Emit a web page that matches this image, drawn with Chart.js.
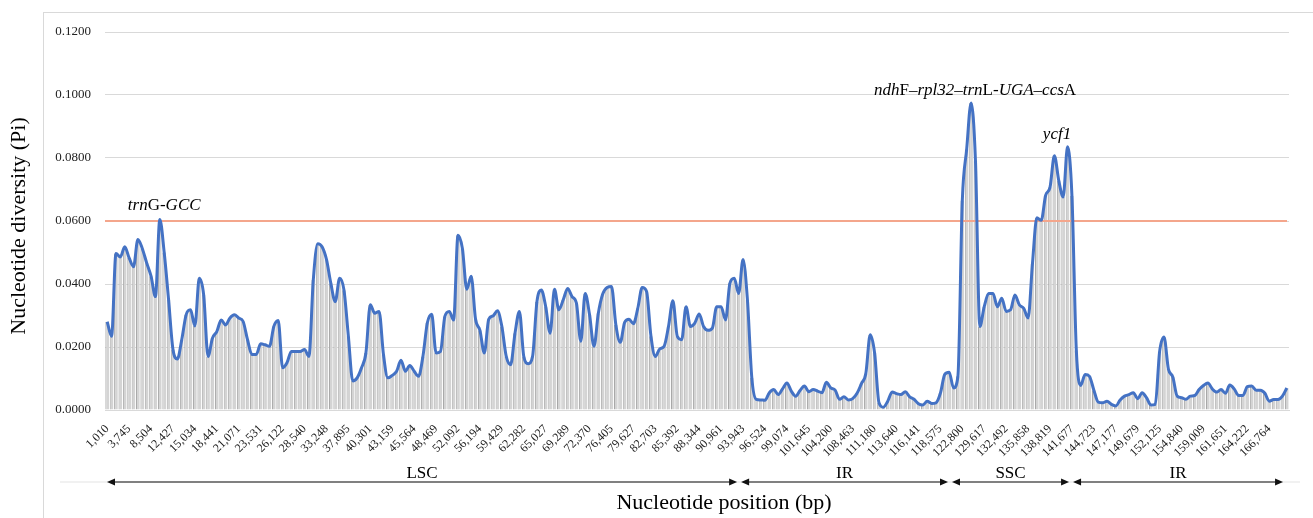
<!DOCTYPE html>
<html>
<head>
<meta charset="utf-8">
<script src="https://cdn.jsdelivr.net/npm/chart.js@4.4.0/dist/chart.umd.min.js"></script>
<style>
html, body { margin: 0; padding: 0; background: #fff; }
#wrap { position: relative; width: 1313px; height: 518px; overflow: hidden; }
#frame { position: absolute; left: 43px; top: 12px; width: 1300px; height: 520px;
         border-left: 1px solid #d9d9d9; border-top: 1px solid #d9d9d9; }
#myChart { position: absolute; left: 0; top: 0; }
</style>
</head>
<body>
<div id="wrap">
  <div id="frame"></div>
  <canvas id="myChart" width="1313" height="518"></canvas>
</div>
<script>
// sliding window values of nucleotide diversity (Pi)
var piValues = [
  0.028, 0.0234, 0.0497, 0.0486, 0.0518, 0.0483, 0.0455, 0.0541, 0.0513, 0.0467,
  0.0425, 0.036, 0.0605, 0.050, 0.035, 0.0192, 0.0162, 0.0223, 0.0302, 0.0318,
  0.0267, 0.0418, 0.0365, 0.017, 0.0228, 0.0249, 0.0286, 0.027, 0.0292, 0.0302,
  0.0292, 0.0281, 0.0223, 0.0176, 0.0176, 0.021, 0.0207, 0.0202, 0.0265, 0.0284,
  0.0134, 0.015, 0.0186, 0.0186, 0.0186, 0.0192, 0.017, 0.0413, 0.0528, 0.0518,
  0.0478, 0.0402, 0.0344, 0.0418, 0.038, 0.0234, 0.0092, 0.0102, 0.0134, 0.0181,
  0.0334, 0.0307, 0.0313, 0.0176, 0.0102, 0.011, 0.0123, 0.0158, 0.0123, 0.0141,
  0.0123, 0.0107, 0.017, 0.0276, 0.0304, 0.0181, 0.0186, 0.0297, 0.0313, 0.0286,
  0.0555, 0.0513, 0.0383, 0.0425, 0.0288, 0.0253, 0.0181, 0.0288, 0.0299, 0.0315,
  0.0265, 0.017, 0.0144, 0.0244, 0.0313, 0.017, 0.0147, 0.017, 0.0344, 0.0381,
  0.0328, 0.0244, 0.0383, 0.0318, 0.035, 0.0386, 0.036, 0.0339, 0.0218, 0.037,
  0.0302, 0.0202, 0.0307, 0.0368, 0.0389, 0.0392, 0.027, 0.0215, 0.0278, 0.0288,
  0.0274, 0.0323, 0.0389, 0.0376, 0.0234, 0.017, 0.0194, 0.0202, 0.0265, 0.0347,
  0.0234, 0.0223, 0.0328, 0.0265, 0.0276, 0.0305, 0.0265, 0.0253, 0.026, 0.0328,
  0.0328, 0.0286, 0.0402, 0.0418, 0.037, 0.0478, 0.035, 0.0102, 0.0034, 0.0032,
  0.0031, 0.0055, 0.0065, 0.0049, 0.0067, 0.0086, 0.006, 0.0044, 0.0062, 0.0076,
  0.0058, 0.0065, 0.006, 0.0055, 0.0088, 0.007, 0.0063, 0.0034, 0.0042, 0.0032,
  0.0036, 0.0053, 0.0084, 0.0116, 0.0239, 0.0181, 0.0023, 0.0009, 0.0028, 0.0057,
  0.0052, 0.0049, 0.0058, 0.0042, 0.0034, 0.002, 0.0016, 0.0028, 0.0021, 0.0023,
  0.0053, 0.0113, 0.012, 0.007, 0.0107, 0.0665, 0.0828, 0.0975, 0.0792, 0.0265,
  0.0328, 0.037, 0.037, 0.0328, 0.0355, 0.0313, 0.0318, 0.0365, 0.0334, 0.0323,
  0.0292, 0.0465, 0.061, 0.0602, 0.0681, 0.0707, 0.0807, 0.0728, 0.0676, 0.0836,
  0.068, 0.019, 0.0078, 0.0113, 0.0107, 0.0063, 0.0025, 0.0023, 0.0028, 0.0018,
  0.0013, 0.0032, 0.0044, 0.0049, 0.0055, 0.0036, 0.0055, 0.0039, 0.0016, 0.0018,
  0.0186, 0.0232, 0.013, 0.0105, 0.0044, 0.0039, 0.0034, 0.0044, 0.0046, 0.0065,
  0.0078, 0.0086, 0.0067, 0.0057, 0.0065, 0.0053, 0.0079, 0.0067, 0.0046, 0.0046,
  0.0074, 0.0076, 0.0063, 0.0063, 0.0053, 0.0028, 0.0033, 0.0033, 0.0044, 0.007
];

// position labels shown on the x axis (one every 5 windows)
var posLabels = [
  "1,010", "3,745", "8,504", "12,427", "15,034", "18,441", "21,071", "23,531", "26,122", "28,540",
  "33,248", "37,895", "40,301", "43,159", "45,564", "48,469", "52,092", "56,194", "59,429", "62,282",
  "65,027", "69,289", "72,370", "76,405", "79,627", "82,703", "85,392", "88,344", "90,961", "93,943",
  "96,524", "99,074", "101,645", "104,200", "108,463", "111,180", "113,640", "116,141", "118,575", "122,800",
  "129,617", "132,492", "135,858", "138,819", "141,677", "144,723", "147,177", "149,679", "152,125", "154,840",
  "159,009", "161,651", "164,222", "166,764"
];
var labelEvery = 5;

var yTicks = [0, 0.02, 0.04, 0.06, 0.08, 0.10, 0.12];
var threshold = 0.06;

// chloroplast regions, boundaries given as window index
var regionNames = ["LSC", "IR", "SSC", "IR"];
var regionBounds = [-0.5, 144.1, 192.2, 219.8, 268.6];

var serif = "'Liberation Serif', 'Times New Roman', serif";

function drawRich(ctx, parts, cx, cy, size) {
    // draws text made of italic / upright pieces, centred on cx
    var total = 0;
    for (var i = 0; i < parts.length; i++) {
        ctx.font = (parts[i][1] ? "italic " : "") + size + "px " + serif;
        total += ctx.measureText(parts[i][0]).width;
    }
    var x = cx - total / 2;
    ctx.textAlign = "left";
    ctx.textBaseline = "middle";
    for (var j = 0; j < parts.length; j++) {
        ctx.font = (parts[j][1] ? "italic " : "") + size + "px " + serif;
        ctx.fillText(parts[j][0], x, cy);
        x += ctx.measureText(parts[j][0]).width;
    }
}

function arrowHead(ctx, x, y, dir) {
    ctx.beginPath();
    ctx.moveTo(x, y);
    ctx.lineTo(x - dir * 8, y - 3.5);
    ctx.lineTo(x - dir * 8, y + 3.5);
    ctx.closePath();
    ctx.fill();
}

var extras = {
    id: "extras",
    afterDatasetDraw: function(chart, args) {
        // threshold line goes over the bars but under the blue line
        if (args.index !== 1) return;
        var ctx = chart.ctx;
        var ys = chart.scales.y;
        var area = chart.chartArea;
        var y = ys.getPixelForValue(threshold);
        ctx.save();
        ctx.strokeStyle = "#f4a68c";
        ctx.lineWidth = 2;
        ctx.beginPath();
        ctx.moveTo(area.left, y);
        ctx.lineTo(area.right - 2, y);
        ctx.stroke();
        ctx.restore();
    },
    afterDraw: function(chart) {
        var ctx = chart.ctx;
        var xs = chart.scales.x;
        var ys = chart.scales.y;
        var area = chart.chartArea;
        ctx.save();
        ctx.fillStyle = "#000";

        // gene annotations
        drawRich(ctx, [["trn", 1], ["G-", 0], ["GCC", 1]],
            xs.getPixelForValue(13), ys.getPixelForValue(0.0649), 17);
        drawRich(ctx, [["ndh", 1], ["F\u2013", 0], ["rpl32", 1], ["\u2013", 0], ["trn", 1],
            ["L-", 0], ["UGA", 1], ["\u2013", 0], ["ccs", 1], ["A", 0]],
            xs.getPixelForValue(197.9), ys.getPixelForValue(0.1014), 17);
        drawRich(ctx, [["ycf1", 1]],
            xs.getPixelForValue(216.6), ys.getPixelForValue(0.0874), 17);

        // region arrows
        var ay = area.bottom + 72;
        ctx.strokeStyle = "#ececec";
        ctx.lineWidth = 1.5;
        ctx.beginPath();
        ctx.moveTo(60, ay);
        ctx.lineTo(1300, ay);
        ctx.stroke();
        for (var r = 0; r < regionNames.length; r++) {
            var x0 = xs.getPixelForValue(regionBounds[r]) + 2;
            var x1 = xs.getPixelForValue(regionBounds[r + 1]) - 2;
            ctx.strokeStyle = "#808080";
            ctx.lineWidth = 2;
            ctx.beginPath();
            ctx.moveTo(x0 + 4, ay);
            ctx.lineTo(x1 - 4, ay);
            ctx.stroke();
            ctx.fillStyle = "#111";
            arrowHead(ctx, x0, ay, -1);
            arrowHead(ctx, x1, ay, 1);
            ctx.fillStyle = "#000";
            ctx.font = "17px " + serif;
            ctx.textAlign = "center";
            ctx.textBaseline = "alphabetic";
            var cx = (x0 + x1) / 2;
            if (r === 0) cx = 422;
            ctx.fillText(regionNames[r], cx, ay - 4);
        }

        // axis titles
        ctx.font = "22px " + serif;
        ctx.textAlign = "center";
        ctx.textBaseline = "middle";
        ctx.fillText("Nucleotide position (bp)", 724, 503);
        ctx.translate(19, 226);
        ctx.rotate(-Math.PI / 2);
        ctx.fillText("Nucleotide diversity (Pi)", 0, 0);
        ctx.restore();
    }
};

var ctx = "myChart";
var myChart = new Chart(ctx, {
    type: "bar",
    data: {
        labels: piValues.map(function(v, i) { return i; }),
        datasets: [{
            type: "line",
            data: piValues,
            borderColor: "#4472c4",
            borderWidth: 3,
            pointRadius: 0,
            cubicInterpolationMode: "monotone",
            order: 0
        }, {
            type: "bar",
            data: piValues,
            backgroundColor: "#d4d4d4",
            borderColor: "#a8a8a8",
            borderWidth: { left: 1, right: 0, top: 0, bottom: 0 },
            barPercentage: 0.85,
            categoryPercentage: 1,
            order: 1
        }]
    },
    options: {
        responsive: false,
        animation: false,
        layout: { padding: { left: 0, right: 24, top: 32, bottom: 0 } },
        plugins: {
            legend: { display: false },
            tooltip: { enabled: false }
        },
        scales: {
            x: {
                grid: { display: false, drawTicks: false },
                border: { display: true, color: "#d9d9d9" },
                ticks: {
                    autoSkip: false,
                    minRotation: 45,
                    maxRotation: 45,
                    padding: 12,
                    color: "#222",
                    font: { family: serif, size: 12 },
                    callback: function(value, index) {
                        return index % labelEvery === 0 ? posLabels[index / labelEvery] : "";
                    }
                },
                afterFit: function(scale) { scale.height = 108; }
            },
            y: {
                min: 0,
                max: 0.12,
                grid: { color: "#d9d9d9", drawTicks: false },
                border: { display: false },
                afterBuildTicks: function(scale) {
                    scale.ticks = yTicks.map(function(v) { return { value: v }; });
                },
                ticks: {
                    padding: 14,
                    color: "#222",
                    font: { family: serif, size: 13 },
                    callback: function(v) { return v.toFixed(4); }
                },
                afterFit: function(scale) { scale.width = 105; }
            }
        }
    },
    plugins: [extras]
});
</script>
</body>
</html>
